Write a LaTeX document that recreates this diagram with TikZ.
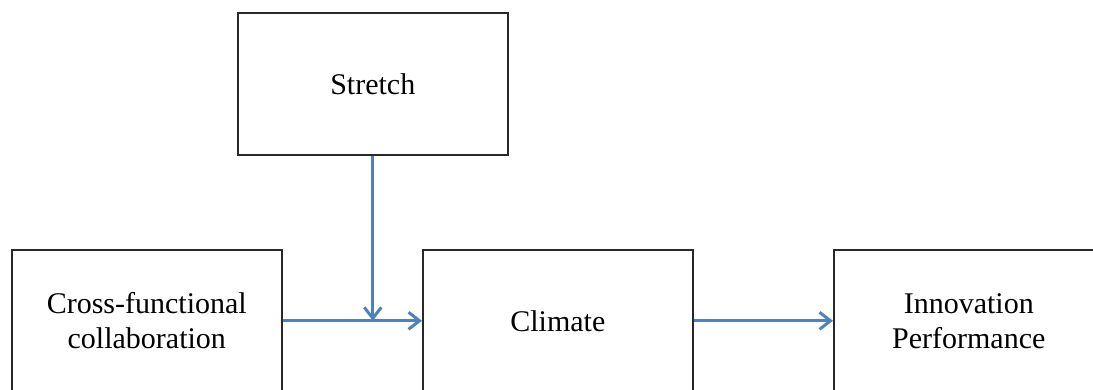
\documentclass[tikz,border=0pt]{standalone}
\usepackage{fontspec}
\setmainfont{Liberation Serif}
\usetikzlibrary{arrows.meta}
\definecolor{arrowblue}{RGB}{79,129,189}
\definecolor{boxline}{RGB}{40,40,40}
\begin{document}
\begin{tikzpicture}[x=1pt,y=-1pt,
  box/.style={draw=boxline, line width=1.6pt, fill=white, minimum width=270pt, minimum height=142pt,
    inner sep=0pt, align=center, font=\fontsize{30}{35}\selectfont, anchor=north west},
  link/.style={draw=arrowblue, line width=3pt, -{Straight Barb[length=11pt,width=17pt,line width=3pt]}}]
\useasboundingbox (0,0) rectangle (1093,390);
\node[box] (stretch) at (237,12) {Stretch};
\node[box] (cross) at (11,249) {Cross-functional\\collaboration};
\node[box] (climate) at (422,249) {Climate};
\node[box] (innov) at (833,249) {Innovation\\Performance};
\coordinate (meet) at (stretch.south |- cross.east);
\draw[link] (cross.east) -- (climate.west);
\draw[link] (stretch.south) -- (meet);
\draw[link] (climate.east) -- (innov.west);
\end{tikzpicture}
\end{document}
